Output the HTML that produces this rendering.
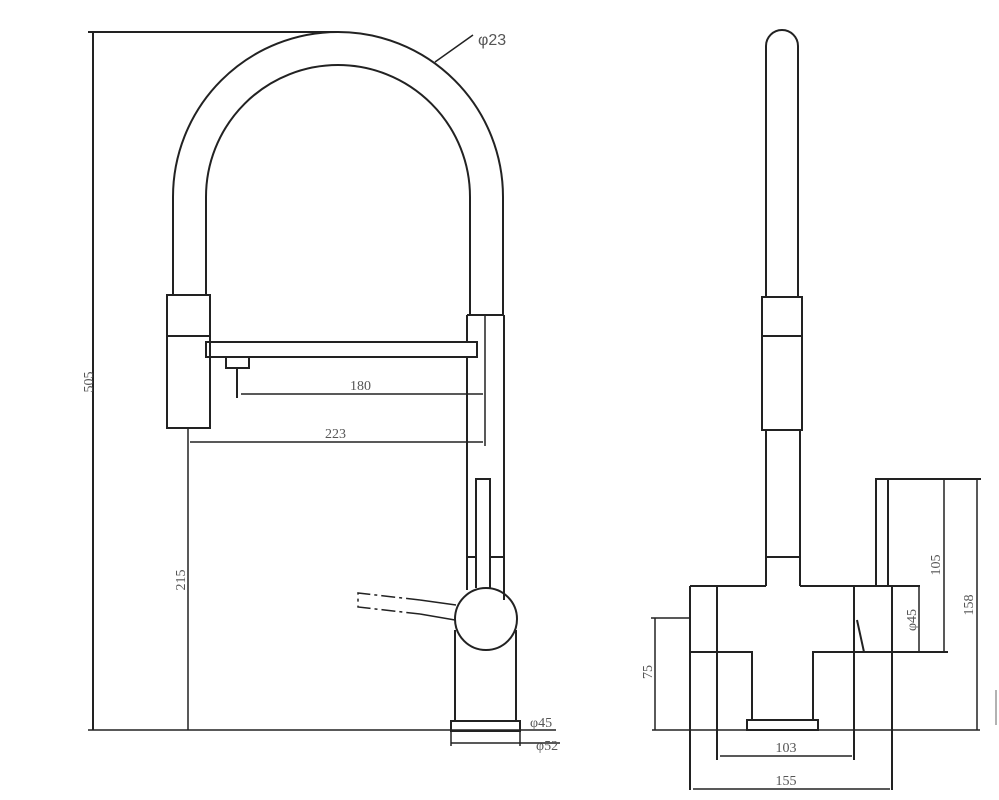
<!DOCTYPE html>
<html><head><style>body{margin:0;background:#fff}svg{display:block}</style></head><body>
<svg width="999" height="800" viewBox="0 0 999 800" xmlns="http://www.w3.org/2000/svg">
<g fill="none" stroke="#222" stroke-width="2">
<!-- left view -->
<line x1="88" y1="32" x2="338" y2="32"/>
<line x1="93" y1="32" x2="93" y2="730"/>
<path d="M173 295 V197 A165 165 0 0 1 503 197 V315"/>
<path d="M206 295 V197 A132 132 0 0 1 470 197 V315"/>
<line x1="435" y1="62" x2="473" y2="35" stroke-width="1.5"/>
<rect x="167" y="295" width="43" height="133"/>
<line x1="167" y1="336" x2="210" y2="336"/>
<rect x="206" y="342" width="271" height="15"/>
<rect x="226" y="357" width="23" height="11"/>
<line x1="237" y1="368" x2="237" y2="398"/>
<line x1="241" y1="394" x2="483" y2="394" stroke-width="1.5"/>
<line x1="190" y1="442" x2="483" y2="442" stroke-width="1.5"/>
<line x1="188" y1="428" x2="188" y2="730" stroke-width="1.5"/>
<line x1="467" y1="315" x2="504" y2="315"/>
<line x1="467" y1="315" x2="467" y2="342"/>
<line x1="467" y1="357" x2="467" y2="590"/>
<line x1="504" y1="315" x2="504" y2="600"/>
<line x1="485" y1="315" x2="485" y2="446" stroke-width="1.5"/>
<path d="M476 588 V479 H490 V588"/>
<line x1="467" y1="557" x2="476" y2="557"/>
<line x1="490" y1="557" x2="504" y2="557"/>
<circle cx="486" cy="619" r="31"/>
<line x1="455" y1="630" x2="455" y2="721"/>
<line x1="516" y1="630" x2="516" y2="721"/>
<rect x="451" y="721" width="69" height="10"/>
<line x1="88" y1="730" x2="556" y2="730" stroke-width="1.5"/>
<line x1="451" y1="731" x2="451" y2="746" stroke-width="1.5"/>
<line x1="520" y1="731" x2="520" y2="746" stroke-width="1.5"/>
<line x1="451" y1="743" x2="560" y2="743" stroke-width="1.5"/>
<path d="M420 600 L358 593 L358 607 L420 614" stroke-width="1.5" stroke-dasharray="14 4 3 4"/>
<line x1="420" y1="600" x2="456" y2="605" stroke-width="1.5"/>
<line x1="420" y1="614" x2="455" y2="620" stroke-width="1.5"/>
<!-- right view -->
<path d="M766 297 V46 A16 16 0 0 1 798 46 V297"/>
<rect x="762" y="297" width="40" height="133"/>
<line x1="762" y1="336" x2="802" y2="336"/>
<line x1="766" y1="430" x2="766" y2="586"/>
<line x1="800" y1="430" x2="800" y2="586"/>
<line x1="766" y1="557" x2="800" y2="557"/>
<line x1="690" y1="586" x2="766" y2="586"/>
<line x1="800" y1="586" x2="920" y2="586"/>
<line x1="690" y1="586" x2="690" y2="790"/>
<line x1="717" y1="586" x2="717" y2="760"/>
<path d="M690 652 H752 V720"/>
<path d="M813 720 V652 H948"/>
<rect x="747" y="720" width="71" height="10"/>
<line x1="854" y1="586" x2="854" y2="760"/>
<line x1="857" y1="620" x2="864" y2="652"/>
<line x1="892" y1="586" x2="892" y2="790"/>
<path d="M876 586 V479 H981"/>
<line x1="888" y1="479" x2="888" y2="586"/>
<line x1="944" y1="479" x2="944" y2="652" stroke-width="1.5"/>
<line x1="919" y1="586" x2="919" y2="652" stroke-width="1.5"/>
<line x1="977" y1="479" x2="977" y2="730" stroke-width="1.5"/>
<line x1="651" y1="618" x2="690" y2="618" stroke-width="1.5"/>
<line x1="655" y1="618" x2="655" y2="730" stroke-width="1.5"/>
<line x1="652" y1="730" x2="980" y2="730" stroke-width="1.5"/>
<line x1="720" y1="756" x2="852" y2="756" stroke-width="1.5"/>
<line x1="693" y1="789" x2="890" y2="789" stroke-width="1.5"/>
<line x1="996" y1="690" x2="996" y2="725" stroke="#999" stroke-width="1.5"/>
</g>
<g font-family="Liberation Serif, serif" font-size="14" fill="#555">
<text x="478" y="45" font-family="Liberation Sans, sans-serif" font-size="16">φ23</text>
<text x="350" y="390">180</text>
<text x="325" y="438">223</text>
<text x="530" y="727">φ45</text>
<text x="536" y="750">φ52</text>
<text transform="translate(93,382) rotate(-90)" text-anchor="middle">505</text>
<text transform="translate(185,580) rotate(-90)" text-anchor="middle">215</text>
<text transform="translate(652,672) rotate(-90)" text-anchor="middle">75</text>
<text transform="translate(940,565) rotate(-90)" text-anchor="middle">105</text>
<text transform="translate(916,620) rotate(-90)" text-anchor="middle">φ45</text>
<text transform="translate(973,605) rotate(-90)" text-anchor="middle">158</text>
<text x="786" y="752" text-anchor="middle">103</text>
<text x="786" y="785" text-anchor="middle">155</text>
</g>
</svg>
</body></html>
